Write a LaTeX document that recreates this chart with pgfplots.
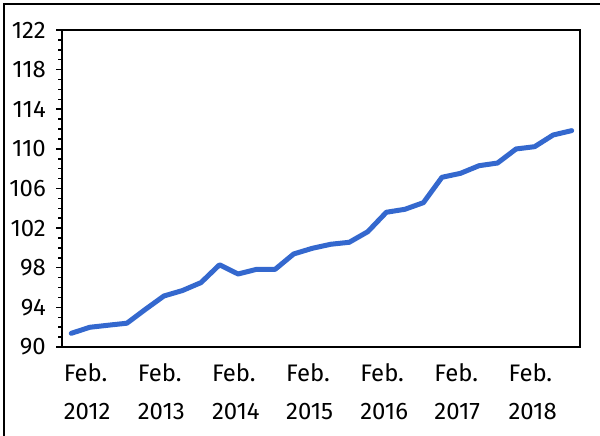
\documentclass[border=0pt]{standalone}
\usepackage{fontspec}
\setmainfont{Fira Sans}
\usepackage{pgfplots}
\pgfplotsset{compat=1.18}
\definecolor{lineblue}{RGB}{52,104,206}
\begin{document}
\fontsize{24}{28}\selectfont
\begin{tikzpicture}[x=1bp,y=1bp]
\path[use as bounding box] (0,0) rectangle (600,436);
\draw[line width=1.6bp] (4,0) -- (4,432) -- (600,432);
\begin{axis}[
  at={(62bp,89bp)}, anchor=south west,
  scale only axis, width=518bp, height=317bp,
  xmin=-0.5, xmax=27.45, ymin=90, ymax=122,
  axis line style={line width=1.8bp},
  ytick={90,94,...,122},
  minor y tick num=3,
  tick align=outside,
  ytick pos=left,
  xtick pos=bottom,
  major tick length=6bp, minor tick length=4bp,
  every tick/.style={line width=1.5bp, black},
  xtick={0,4,...,24},
  x tick style={draw=none},
  tick label style={font=\fontsize{24}{28}\selectfont},
  xticklabels={{Feb.\\[10bp]2012},{Feb.\\[10bp]2013},{Feb.\\[10bp]2014},{Feb.\\[10bp]2015},{Feb.\\[10bp]2016},{Feb.\\[10bp]2017},{Feb.\\[10bp]2018}},
  xticklabel style={anchor=north west, align=left, inner sep=0pt, xshift=-7.7bp, yshift=-10bp},
  yticklabel style={inner sep=0pt, xshift=-10bp},
  /pgf/number format/assume math mode=true,
  grid=none,
  clip=false,
]
\addplot[lineblue, line width=5bp, line join=round, line cap=round] coordinates {
(0,91.38) (1,91.99) (2,92.2) (3,92.4) (4,93.8) (5,95.15) (6,95.7) (7,96.5)
(8,98.3) (9,97.37) (10,97.84) (11,97.84) (12,99.39) (13,99.96) (14,100.37) (15,100.57)
(16,101.64) (17,103.6) (18,103.9) (19,104.57) (20,107.13) (21,107.53) (22,108.3) (23,108.57)
(24,109.99) (25,110.22) (26,111.4) (27,111.84)
};
\end{axis}
\end{tikzpicture}
\end{document}
